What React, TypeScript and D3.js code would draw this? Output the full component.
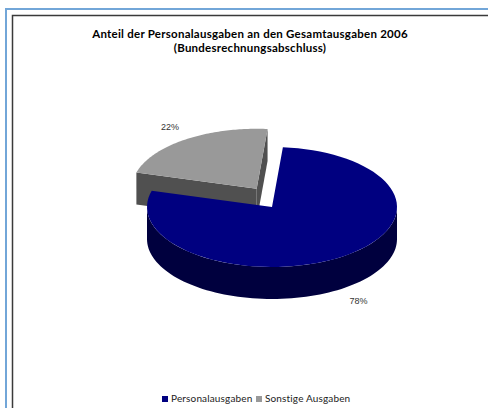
import React from "react";
import * as d3 from "d3";

const title1 = "Anteil der Personalausgaben an den Gesamtausgaben 2006";
const title2 = "(Bundesrechnungsabschluss)";
const categories = ["Personalausgaben", "Sonstige Ausgaben"];
const values = [78, 22];
const labels = ["78%", "22%"];
const topColors = ["#000080", "#999999"];
const sideColors = ["#00003e", "#505050"];
const explode = [0, 1];

const W = 488;
const H = 408;

export default function App() {
  const cx = 272, cy = 207, rx = 125, ry = 60, depth = 32;
  const E = 27, ey = 0.82;
  const rot = (5 * Math.PI) / 180;
  const pie = d3.pie<number>().sort(null).value((d) => d).startAngle(rot).endAngle(rot + 2 * Math.PI);
  const arcs = pie(values);

  const pt = (ox: number, oy: number, a: number, dz = 0) => [ox + rx * Math.sin(a), oy - ry * Math.cos(a) + dz];

  const ellArc = (ox: number, oy: number, a0: number, a1: number, dz: number, n = 80) => {
    const pts: number[][] = [];
    for (let i = 0; i <= n; i++) {
      const a = a0 + ((a1 - a0) * i) / n;
      pts.push(pt(ox, oy, a, dz));
    }
    return pts;
  };

  const slices = arcs.map((a, i) => {
    const mid = (a.startAngle + a.endAngle) / 2;
    const ox = cx + explode[i] * E * Math.sin(mid);
    const oy = cy - explode[i] * E * ey * Math.cos(mid);
    return { a, mid, ox, oy, i };
  });

  const sides: React.ReactNode[] = [];
  const tops: React.ReactNode[] = [];
  const texts: React.ReactNode[] = [];
  const line = d3.line();

  slices.forEach(({ a, mid, ox, oy, i }) => {
    // radial faces, visible when their outward normal faces the viewer
    [a.startAngle, a.endAngle].forEach((ang, k) => {
      const normal = k === 0 ? ang - Math.PI / 2 : ang + Math.PI / 2;
      if (Math.cos(normal) >= 0) return;
      const p = pt(ox, oy, ang);
      const pts = [[ox, oy], p, [p[0], p[1] + depth], [ox, oy + depth]] as [number, number][];
      sides.push(<path key={`f${i}${k}`} d={line(pts) + "Z"} fill={sideColors[i]} />);
    });
    // curved outer side in front half
    const ranges = [[Math.PI / 2, (3 * Math.PI) / 2], [Math.PI / 2 + 2 * Math.PI, (3 * Math.PI) / 2 + 2 * Math.PI]];
    ranges.forEach(([f0, f1], k) => {
      const s0 = Math.max(a.startAngle, f0);
      const s1 = Math.min(a.endAngle, f1);
      if (s1 > s0) {
        const top = ellArc(ox, oy, s0, s1, 0);
        const bot = ellArc(ox, oy, s1, s0, depth);
        sides.push(<path key={`s${i}${k}`} d={line([...top, ...bot] as [number, number][]) + "Z"} fill={sideColors[i]} />);
      }
    });
    const tp = [[ox, oy], ...ellArc(ox, oy, a.startAngle, a.endAngle, 0)] as [number, number][];
    tops.push(<path key={`t${i}`} d={line(tp) + "Z"} fill={topColors[i]} />);
    const lx = ox + Math.sin(mid) * rx * 1.22;
    const ly = oy - Math.cos(mid) * ry * 1.25 + (Math.cos(mid) < 0 ? depth : 0) + 3;
    texts.push(
      <text key={`l${i}`} x={lx} y={ly} textAnchor="middle" fontSize={9} fill="#333" fontFamily="Liberation Sans, Arial, sans-serif">
        {labels[i]}
      </text>
    );
  });

  const legendFont = "Lato, 'Noto Sans', sans-serif";
  const lgX = [162, 256];

  return (
    <div style={{ position: "fixed", left: 0, top: 0 }}>
      <svg width={W} height={H} style={{ display: "block", background: "#fff" }}>
        <rect x={6} y={9} width={W} height={H} fill="none" stroke="#72a6d8" strokeWidth={2} />
        <rect x={12.5} y={15.5} width={W} height={H} fill="none" stroke="#3a3a3a" strokeWidth={1.5} />
        <text x={250} y={37.5} textAnchor="middle" fontSize={11.5} letterSpacing={0.25} fontWeight="bold" fill="#000" fontFamily="Lato, sans-serif">
          {title1}
        </text>
        <text x={250} y={51.5} textAnchor="middle" fontSize={11.5} letterSpacing={0.25} fontWeight="bold" fill="#000" fontFamily="Lato, sans-serif">
          {title2}
        </text>
        {sides}
        {tops}
        {texts}
        {categories.map((c, i) => (
          <g key={c}>
            <rect x={lgX[i]} y={396} width={6} height={6} fill={topColors[i]} />
            <text x={lgX[i] + 9} y={402} fontSize={10} letterSpacing={0.15} fill="#222" fontFamily={legendFont}>
              {c}
            </text>
          </g>
        ))}
      </svg>
    </div>
  );
}
